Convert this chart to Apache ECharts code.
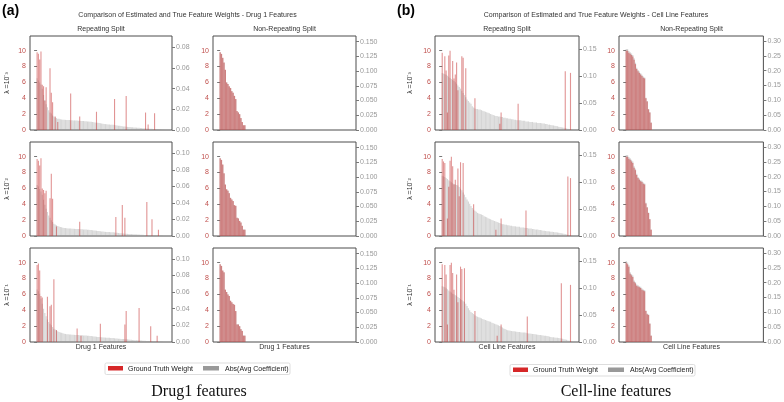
<!DOCTYPE html>
<html>
<head>
<meta charset="utf-8">
<script src="https://cdn.jsdelivr.net/npm/echarts@6/dist/echarts.min.js"></script>
<style>
html,body{margin:0;padding:0;background:#fff;}
#main{width:784px;height:402px;}
</style>
</head>
<body>
<div id="main"></div>
<script>
// ground truth weights on the repeating split: [feature rank, weight]
var drugRepRed1 = [[0,9.8],[1,9.6],[2,8.9],[3,9.9],[4,5.7],[5,5.5],[6,3.7],[7,5.4],[10,7.8],[11,4.7],[12,3.5],[14,1.7],[16,1.0],[26,4.6],[33,1.7],[46,2.3],[60,3.9],[69,4.3],[84,2.2],[86,0.7],[91,2.1]];
var drugRepRed2 = [[0,9.7],[1,9.5],[2,8.9],[3,9.8],[4,6.0],[5,5.8],[6,5.4],[7,5.7],[10,4.75],[11,7.85],[12,4.7],[15,1.2],[33,1.8],[61,2.4],[66,3.9],[68,2.3],[85,4.3],[89,2.1],[94,0.8]];
var drugRepRed3 = [[0,9.7],[1,9.9],[2,9.0],[3,5.8],[4,5.6],[8,5.7],[10,4.5],[11,4.7],[13,7.9],[15,1.5],[31,1.7],[34,0.8],[49,2.3],[68,2.2],[69,3.9],[79,4.3],[88,2.0],[93,0.8]];
var cellRepRed1 = [[0,9.75],[2,9.3],[3,7.5],[4,2.2],[5,9.4],[6,10.0],[8,8.7],[9,6.5],[10,7.0],[11,8.5],[12,5.0],[15,9.3],[16,9.1],[18,7.8],[25,4.0],[44,0.8],[45,2.2],[58,3.3],[94,7.4],[98,7.2]];
var cellRepRed2 = [[0,9.7],[1,9.4],[2,9.2],[4,2.2],[5,6.2],[6,9.5],[7,10.0],[8,8.8],[9,6.5],[10,7.1],[12,8.5],[13,5.0],[14,9.3],[16,9.2],[24,4.0],[41,0.8],[45,2.2],[64,3.2],[96,7.5],[98,7.3]];
var cellRepRed3 = [[0,9.8],[2,9.7],[3,8.5],[4,2.2],[6,9.7],[7,10.0],[8,8.7],[9,6.6],[11,8.5],[12,5.0],[14,9.5],[15,9.2],[17,9.3],[25,3.9],[42,0.8],[45,2.2],[65,3.2],[91,7.4],[98,7.2]];

// abs(avg coefficient) on the repeating split, features 0..99
var drugRepGrey1 = [0.050,0.048,0.046,0.044,0.040,0.034,0.029,0.025,0.022,0.019,
  0.017,0.016,0.014,0.013,0.012,0.0115,0.011,0.0108,0.0105,0.0102,
  0.0100,0.0099,0.0098,0.0097,0.0097,0.0096,0.0095,0.0094,0.0093,0.0093,
  0.0092,0.0091,0.0090,0.0089,0.0088,0.0087,0.0086,0.0085,0.0084,0.0083,
  0.0082,0.0081,0.0079,0.0077,0.0075,0.0073,0.0071,0.0069,0.0067,0.0065,
  0.0063,0.0061,0.0059,0.0057,0.0055,0.0054,0.0053,0.0052,0.0051,0.0050,
  0.0048,0.0046,0.0044,0.0042,0.0040,0.0038,0.0036,0.0034,0.0033,0.0031,
  0.0030,0.0029,0.0028,0.0027,0.0026,0.0025,0.0024,0.0023,0.0022,0.0021,
  0.0020,0.0019,0.0018,0.0017,0.0016,0.0015,0.0014,0.0013,0.0012,0.0011,
  0.0010,0.0009,0.0008,0.0007,0.0006,0.0005,0.0004,0.0003,0.0002,0.0001];
var drugRepGrey2 = [0.062,0.060,0.057,0.054,0.050,0.044,0.038,0.033,0.029,0.025,
  0.022,0.019,0.017,0.015,0.014,0.013,0.012,0.0115,0.011,0.0105,
  0.010,0.0098,0.0096,0.0094,0.0092,0.0091,0.0090,0.0089,0.0088,0.0087,
  0.0086,0.0085,0.0084,0.0083,0.0082,0.0081,0.0080,0.0079,0.0078,0.0077,
  0.0076,0.0074,0.0072,0.0070,0.0068,0.0066,0.0064,0.0062,0.0060,0.0058,
  0.0056,0.0054,0.0052,0.0050,0.0049,0.0048,0.0047,0.0046,0.0045,0.0044,
  0.0042,0.0040,0.0038,0.0036,0.0034,0.0032,0.0030,0.0029,0.0028,0.0027,
  0.0026,0.0025,0.0024,0.0023,0.0022,0.0021,0.0020,0.0019,0.0018,0.0017,
  0.0016,0.0015,0.0014,0.0013,0.0012,0.0011,0.0010,0.0009,0.0008,0.0007,
  0.0006,0.0005,0.0005,0.0004,0.0004,0.0003,0.0003,0.0002,0.0001,0.0001];
var drugRepGrey3 = [0.063,0.061,0.058,0.052,0.046,0.040,0.035,0.031,0.027,0.024,
  0.022,0.020,0.018,0.016,0.015,0.014,0.013,0.012,0.0115,0.011,
  0.0105,0.010,0.0097,0.0094,0.0092,0.0090,0.0089,0.0088,0.0087,0.0086,
  0.0085,0.0084,0.0083,0.0082,0.0081,0.0080,0.0079,0.0078,0.0077,0.0076,
  0.0075,0.0073,0.0071,0.0069,0.0067,0.0065,0.0063,0.0061,0.0059,0.0057,
  0.0056,0.0055,0.0054,0.0053,0.0052,0.0051,0.0050,0.0049,0.0048,0.0047,
  0.0045,0.0043,0.0041,0.0039,0.0038,0.0037,0.0036,0.0035,0.0034,0.0033,
  0.0032,0.0030,0.0028,0.0026,0.0024,0.0023,0.0022,0.0021,0.0020,0.0019,
  0.0018,0.0017,0.0016,0.0015,0.0014,0.0013,0.0012,0.0011,0.0010,0.0009,
  0.0008,0.0007,0.0006,0.0005,0.0004,0.0004,0.0003,0.0002,0.0001,0.0001];
var cellRepGrey1 = [0.106,0.105,0.104,0.103,0.101,0.099,0.097,0.095,0.093,0.091,
  0.089,0.086,0.083,0.080,0.077,0.073,0.069,0.065,0.061,0.057,
  0.054,0.051,0.049,0.044,0.042,0.040,0.039,0.039,0.038,0.038,
  0.037,0.036,0.035,0.034,0.033,0.032,0.031,0.030,0.029,0.028,
  0.027,0.026,0.026,0.025,0.025,0.024,0.024,0.023,0.023,0.022,
  0.022,0.021,0.021,0.020,0.020,0.019,0.019,0.018,0.018,0.018,
  0.018,0.017,0.017,0.017,0.016,0.016,0.016,0.015,0.015,0.015,
  0.014,0.014,0.014,0.013,0.013,0.013,0.0125,0.012,0.012,0.011,
  0.011,0.010,0.010,0.0095,0.009,0.0085,0.008,0.0075,0.007,0.006,
  0.0055,0.005,0.0045,0.004,0.0035,0.003,0.0025,0.002,0.0015,0.001];
var cellRepGrey2 = [0.112,0.111,0.110,0.108,0.106,0.104,0.102,0.100,0.098,0.097,
  0.096,0.095,0.094,0.091,0.088,0.085,0.081,0.077,0.072,0.068,
  0.064,0.060,0.056,0.052,0.049,0.047,0.045,0.043,0.042,0.041,
  0.040,0.039,0.037,0.036,0.035,0.033,0.032,0.031,0.030,0.029,
  0.028,0.027,0.026,0.025,0.024,0.023,0.022,0.022,0.021,0.021,
  0.020,0.020,0.019,0.019,0.018,0.018,0.018,0.017,0.017,0.017,
  0.016,0.016,0.016,0.0155,0.015,0.015,0.014,0.014,0.014,0.013,
  0.013,0.012,0.012,0.012,0.011,0.011,0.0105,0.010,0.010,0.0095,
  0.009,0.0088,0.0085,0.008,0.0078,0.0075,0.007,0.0068,0.0065,0.006,
  0.0055,0.005,0.0045,0.004,0.0035,0.003,0.0025,0.002,0.0015,0.001];
var cellRepGrey3 = [0.104,0.103,0.102,0.100,0.098,0.096,0.094,0.092,0.090,0.089,
  0.087,0.086,0.084,0.082,0.080,0.078,0.076,0.075,0.071,0.067,
  0.063,0.059,0.056,0.054,0.052,0.050,0.048,0.047,0.046,0.045,
  0.044,0.043,0.042,0.041,0.040,0.039,0.038,0.0375,0.036,0.035,
  0.034,0.033,0.032,0.031,0.030,0.029,0.027,0.025,0.024,0.023,
  0.022,0.0215,0.021,0.0205,0.020,0.0198,0.0195,0.019,0.0188,0.0185,
  0.018,0.0178,0.0176,0.0175,0.017,0.0165,0.016,0.0158,0.0155,0.015,
  0.0148,0.0145,0.014,0.0135,0.013,0.0128,0.0125,0.012,0.0118,0.0115,
  0.011,0.0105,0.010,0.0095,0.009,0.0088,0.0085,0.008,0.0078,0.0075,
  0.007,0.0065,0.006,0.005,0.0045,0.004,0.003,0.0025,0.002,0.001];

// non-repeating split: only the first 20 features carry weight
var drugNonRed1 = [9.8,9.6,9.1,8.5,7.6,6.0,5.8,5.5,5.3,4.9,4.7,4.3,3.9,2.4,2.2,2.0,1.5,1.0,0.6,0.6];
var drugNonRed2 = [9.8,9.6,9.0,7.9,6.5,5.9,5.7,5.4,4.8,4.6,4.4,3.9,3.8,2.3,2.2,1.9,1.7,1.3,0.8,0.8];
var drugNonRed3 = [9.8,9.6,9.0,8.8,6.6,6.3,6.0,5.8,5.2,5.0,4.8,4.7,3.9,2.2,2.2,2.0,1.6,1.4,0.8,0.8];
var drugNonGrey1 = [0.132,0.129,0.122,0.114,0.102,0.081,0.078,0.074,0.071,0.066,0.063,0.058,0.052,0.032,0.030,0.027,0.020,0.013,0.008,0.008];
var drugNonGrey2 = [0.132,0.129,0.121,0.106,0.087,0.079,0.077,0.073,0.065,0.062,0.059,0.052,0.051,0.031,0.030,0.026,0.023,0.017,0.011,0.011];
var drugNonGrey3 = [0.132,0.129,0.121,0.118,0.089,0.085,0.081,0.078,0.070,0.067,0.065,0.063,0.052,0.030,0.030,0.027,0.022,0.019,0.011,0.011];
var cellNonRed1 = [10.0,10.0,9.75,9.6,9.45,9.25,8.85,8.3,7.7,7.4,7.2,7.0,6.8,6.6,6.5,4.0,3.6,2.6,2.2,0.9];
var cellNonRed2 = [10.0,10.0,9.75,9.6,9.4,9.2,8.6,8.3,7.7,7.3,7.1,6.9,6.8,6.6,6.5,4.1,3.6,2.9,2.1,0.8];
var cellNonRed3 = [10.0,9.8,9.5,8.6,8.4,8.2,7.6,7.4,7.1,7.0,6.9,6.8,6.6,6.5,6.4,3.9,3.5,3.4,2.3,0.8];
var cellNonGrey1 = [0.273,0.273,0.266,0.262,0.258,0.253,0.242,0.227,0.210,0.202,0.197,0.191,0.186,0.180,0.177,0.109,0.098,0.071,0.060,0.025];
var cellNonGrey2 = [0.273,0.273,0.266,0.262,0.257,0.251,0.235,0.227,0.210,0.199,0.194,0.188,0.186,0.180,0.177,0.112,0.098,0.079,0.057,0.022];
var cellNonGrey3 = [0.273,0.268,0.259,0.235,0.229,0.224,0.207,0.202,0.194,0.191,0.188,0.186,0.180,0.177,0.175,0.106,0.096,0.093,0.063,0.022];

var lambdaLabels = ['λ =10⁻³', 'λ =10⁻²', 'λ =10⁻¹'];
var colTitles = ['Repeating Split', 'Non-Repeating Split'];

var panels = [
  {col:0,row:0,red:drugRepRed1,grey:drugRepGrey1,rmax:0.091,rint:0.02,dec:2},
  {col:0,row:1,red:drugRepRed2,grey:drugRepGrey2,rmax:0.114,rint:0.02,dec:2},
  {col:0,row:2,red:drugRepRed3,grey:drugRepGrey3,rmax:0.113,rint:0.02,dec:2},
  {col:1,row:0,red:drugNonRed1,grey:drugNonGrey1,rmax:0.1595,rint:0.025,dec:3},
  {col:1,row:1,red:drugNonRed2,grey:drugNonGrey2,rmax:0.1595,rint:0.025,dec:3},
  {col:1,row:2,red:drugNonRed3,grey:drugNonGrey3,rmax:0.1595,rint:0.025,dec:3},
  {col:2,row:0,red:cellRepRed1,grey:cellRepGrey1,rmax:0.175,rint:0.05,dec:2},
  {col:2,row:1,red:cellRepRed2,grey:cellRepGrey2,rmax:0.175,rint:0.05,dec:2},
  {col:2,row:2,red:cellRepRed3,grey:cellRepGrey3,rmax:0.175,rint:0.05,dec:2},
  {col:3,row:0,red:cellNonRed1,grey:cellNonGrey1,rmax:0.317,rint:0.05,dec:2},
  {col:3,row:1,red:cellNonRed2,grey:cellNonGrey2,rmax:0.317,rint:0.05,dec:2},
  {col:3,row:2,red:cellNonRed3,grey:cellNonGrey3,rmax:0.317,rint:0.05,dec:2}
];

var colLeft = [30, 213, 435, 619];
var colWidth = [142, 143, 144, 145];
var rowTop = [36, 142, 248];
var rowHeight = 94;
var font = 'Liberation Sans, Arial, sans-serif';
var redColor = 'rgba(200,60,60,0.55)';
var greyColor = 'rgba(150,150,150,0.4)';

function toPairs(arr) {
  if (Array.isArray(arr[0])) return arr;
  var res = [];
  for (var i = 0; i < arr.length; i++) res.push([i, arr[i]]);
  return res;
}

var grid = [], xAxis = [], yAxis = [], series = [];
panels.forEach(function (p, k) {
  // non-repeating panels are dense, so bars fill the slot
  var bw = (p.col % 2 === 1) ? 1.3 : 1.1;
  grid.push({
    left: colLeft[p.col], top: rowTop[p.row], width: colWidth[p.col], height: rowHeight,
    show: true, borderColor: '#4d4d4d', borderWidth: 1, backgroundColor: '#fff'
  });
  xAxis.push({
    type: 'value', gridIndex: k, min: -5.5, max: 104.5,
    axisLine: {show: false}, axisTick: {show: false}, axisLabel: {show: false}, splitLine: {show: false}
  });
  yAxis.push({
    type: 'value', gridIndex: k, position: 'left', min: 0, max: 11.85, interval: 2,
    axisLine: {show: false}, splitLine: {show: false},
    axisTick: {show: true, length: 3, lineStyle: {color: '#777'}},
    axisLabel: {color: '#c0504d', fontSize: 7, fontFamily: font, margin: 4, showMaxLabel: false}
  });
  yAxis.push({
    type: 'value', gridIndex: k, position: 'right', min: 0, max: p.rmax, interval: p.rint,
    axisLine: {show: false}, splitLine: {show: false},
    axisTick: {show: true, length: 3, lineStyle: {color: '#777'}},
    axisLabel: {color: '#999', fontSize: 7, fontFamily: font, margin: 4, showMaxLabel: false,
      formatter: (function (d) { return function (v) { return v.toFixed(d); }; })(p.dec)}
  });
  series.push({
    name: 'Abs(Avg Coefficient)', type: 'bar', xAxisIndex: k, yAxisIndex: 2 * k + 1,
    data: toPairs(p.grey), barWidth: bw, barGap: '-100%',
    itemStyle: {color: greyColor}, silent: true, z: 2
  });
  series.push({
    name: 'Ground Truth Weight', type: 'bar', xAxisIndex: k, yAxisIndex: 2 * k,
    data: toPairs(p.red), barWidth: bw, barGap: '-100%',
    itemStyle: {color: redColor}, silent: true, z: 3
  });
});

function txt(x, y, s, opt) {
  opt = opt || {};
  return {
    type: 'text', x: x, y: y, rotation: opt.rot || 0, z: 10,
    style: {text: s, fill: opt.color || '#222', font: opt.font || ('7px ' + font),
      align: opt.align || 'center', verticalAlign: opt.va || 'middle'}
  };
}

var graphic = [];
var figures = [
  {letter: '(a)', lx: 2, title: 'Comparison of Estimated and True Feature Weights - Drug 1 Features', tx: 187.5,
   xlabel: 'Drug 1 Features', cols: [0, 1], lamX: 7, caption: 'Drug1 features', cx: 199, legX: 105, legY: 363},
  {letter: '(b)', lx: 397, title: 'Comparison of Estimated and True Feature Weights - Cell Line Features', tx: 596,
   xlabel: 'Cell Line Features', cols: [2, 3], lamX: 410, caption: 'Cell-line features', cx: 616, legX: 510, legY: 364.5}
];
figures.forEach(function (f) {
  graphic.push(txt(f.lx, 11, f.letter, {align: 'left', font: 'bold 14px ' + font, color: '#000'}));
  graphic.push(txt(f.tx, 15, f.title, {color: '#333'}));
  f.cols.forEach(function (c, j) {
    var cxm = colLeft[c] + colWidth[c] / 2;
    graphic.push(txt(cxm, 29.5, colTitles[j], {color: '#333'}));
    graphic.push(txt(cxm, 347.5, f.xlabel, {color: '#333'}));
  });
  rowTop.forEach(function (t, r) {
    graphic.push(txt(f.lamX, t + rowHeight / 2, lambdaLabels[r], {rot: Math.PI / 2, color: '#333'}));
  });
  // legend box
  graphic.push({type: 'rect', shape: {x: f.legX, y: f.legY, width: 185, height: 11.5, r: 1.5},
    style: {fill: '#fff', stroke: '#ddd', lineWidth: 1}, z: 9});
  graphic.push({type: 'rect', shape: {x: f.legX + 3, y: f.legY + 3, width: 15, height: 4.5},
    style: {fill: '#d62728'}, z: 10});
  graphic.push(txt(f.legX + 23, f.legY + 5.8, 'Ground Truth Weight', {align: 'left', color: '#222'}));
  graphic.push({type: 'rect', shape: {x: f.legX + 98, y: f.legY + 3, width: 16, height: 4.5},
    style: {fill: '#999'}, z: 10});
  graphic.push(txt(f.legX + 120, f.legY + 5.8, 'Abs(Avg Coefficient)', {align: 'left', color: '#222'}));
  graphic.push(txt(f.cx, 392, f.caption, {font: '16px Liberation Serif, Times New Roman, serif', color: '#111'}));
});

var myChart = echarts.init(document.getElementById('main'));
var option = {
  animation: false,
  backgroundColor: '#fff',
  grid: grid,
  xAxis: xAxis,
  yAxis: yAxis,
  series: series,
  graphic: graphic
};
myChart.setOption(option);
</script>
</body>
</html>
